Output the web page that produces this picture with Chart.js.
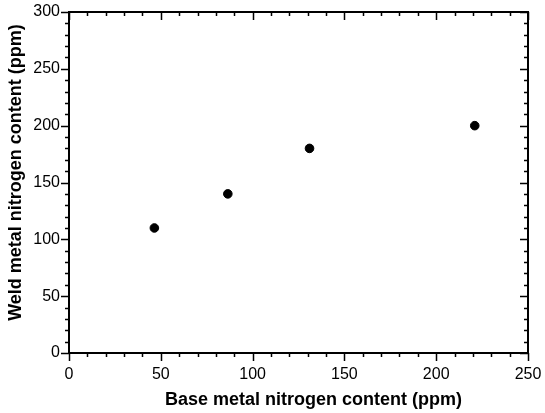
<!DOCTYPE html>
<html>
<head>
<meta charset="utf-8">
<script src="https://cdn.jsdelivr.net/npm/chart.js@4/dist/chart.umd.min.js"></script>
<style>
  html, body { margin: 0; padding: 0; background: #fff; }
  #wrap { width: 545px; height: 413px; }
</style>
</head>
<body>
<div id="wrap"><canvas id="c" width="545" height="413"></canvas></div>
<script>
// values
const baseN = [46.5, 86.5, 131, 221];
const weldN = [110, 140, 180, 200];
const xTicks = [0, 50, 100, 150, 200, 250];
const yTicks = [0, 50, 100, 150, 200, 250, 300];

const FONT = "'Liberation Sans', Arial, sans-serif";

// frame with ticks: outward on bottom/left, inward on top/right
const frameTicks = {
  id: "frameTicks",
  afterDraw(chart) {
    const { ctx, chartArea: a, scales } = chart;
    const x = scales.x, y = scales.y;
    const major = 8, minor = 4;
    ctx.save();
    ctx.strokeStyle = "#000";
    ctx.lineWidth = 2;
    ctx.strokeRect(a.left, a.top, a.right - a.left, a.bottom - a.top);
    ctx.lineWidth = 1.5;
    ctx.beginPath();
    for (let v = 0; v <= 250; v += 10) {
      const px = Math.round(x.getPixelForValue(v)) + 0.5;
      const len = v % 50 === 0 ? major : minor;
      ctx.moveTo(px, a.bottom); ctx.lineTo(px, a.bottom + len);
      ctx.moveTo(px, a.top); ctx.lineTo(px, a.top + len);
    }
    for (let v = 0; v <= 300; v += 10) {
      const py = Math.round(y.getPixelForValue(v)) + 0.5;
      const len = v % 50 === 0 ? major : minor;
      ctx.moveTo(a.left, py); ctx.lineTo(a.left - len, py);
      ctx.moveTo(a.right, py); ctx.lineTo(a.right - len, py);
    }
    ctx.stroke();
    ctx.restore();
  }
};

new Chart(document.getElementById("c"), {
  type: "scatter",
  data: {
    datasets: [{
      data: baseN.map((v, i) => ({ x: v, y: weldN[i] })),
      backgroundColor: "#000",
      borderColor: "#000",
      pointRadius: 4.3,
      pointHoverRadius: 4.3,
    }],
  },
  options: {
    responsive: false,
    animation: false,
    layout: { padding: { left: 0, right: 17, top: 12, bottom: 0 } },
    plugins: { legend: { display: false }, tooltip: { enabled: false } },
    scales: {
      x: {
        type: "linear",
        min: 0,
        max: 250,
        afterBuildTicks: (s) => { s.ticks = xTicks.map((v) => ({ value: v })); },
        afterFit: (s) => { s.height = 60; s.paddingLeft = 0; s.paddingRight = 0; },
        grid: { display: false, drawTicks: false },
        border: { display: false },
        ticks: { color: "#000", padding: 12, maxRotation: 0, font: { family: FONT, size: 16 } },
        title: {
          display: true,
          // leading spaces nudge the title right, as in the original figure
          text: "      Base metal nitrogen content (ppm)",
          color: "#000",
          padding: { top: 0, bottom: 2 },
          font: { family: FONT, size: 18, weight: "bold" },
        },
      },
      y: {
        type: "linear",
        min: 0,
        max: 300,
        afterBuildTicks: (s) => { s.ticks = yTicks.map((v) => ({ value: v })); },
        afterFit: (s) => { s.width = 69; s.paddingTop = 0; s.paddingBottom = 0; },
        grid: { display: false, drawTicks: false },
        border: { display: false },
        ticks: { color: "#000", padding: 9, font: { family: FONT, size: 16 } },
        title: {
          display: true,
          // leading spaces lift the title a little
          text: "    Weld metal nitrogen content (ppm)",
          color: "#000",
          padding: { top: 5, bottom: 0 },
          font: { family: FONT, size: 18, weight: "bold" },
        },
      },
    },
  },
  plugins: [frameTicks],
});
</script>
</body>
</html>
